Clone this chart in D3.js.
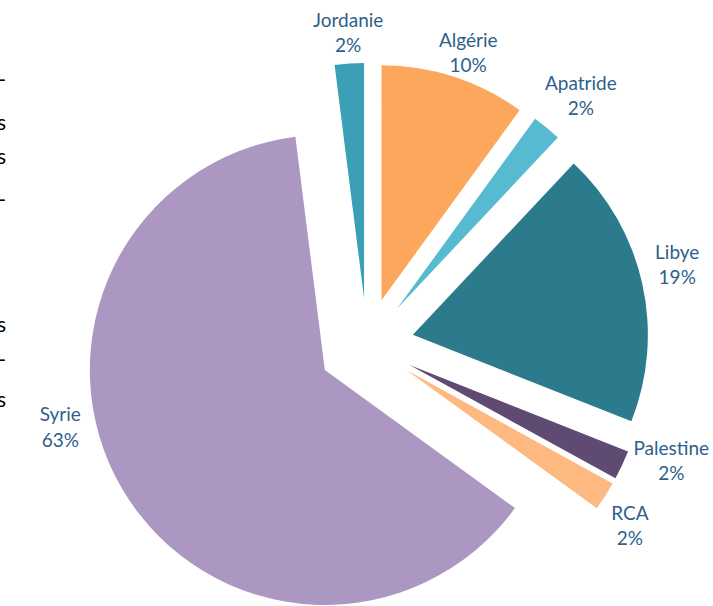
<!DOCTYPE html>
<html>
<head>
    <meta charset="utf-8">
    <title>Répartition par nationalité</title>
    <style type="text/css">
        body{
            margin: 0;
            background-color: #fff;
        }
        svg{
            display: block;
            background-color: #fff;
        }
        .label text{
            font-family: Lato, "Open Sans", sans-serif;
            font-size: 19px;
            fill: #2e5f8c;
        }
        .edge text{
            font-family: Lato, "Open Sans", sans-serif;
            font-size: 21px;
            fill: #000;
        }
    </style>
    <script type="text/javascript" src="https://cdn.jsdelivr.net/npm/d3@7/dist/d3.min.js"></script>
</head>
<body>

    <div id="chart"></div>

    <script type="text/javascript">
        // data, clockwise from 12 o'clock
        var pays = ['Algérie', 'Apatride', 'Libye', 'Palestine', 'RCA', 'Syrie', 'Jordanie'];
        var parts = [10, 2, 19, 2, 2, 63, 2];
        var couleurs = ['#fda75d', '#56bbd1', '#2b7b8c', '#5f4a71', '#fdb97f', '#ac97c3', '#3b9fb6'];

        // cut-off text on the left border
        var bordTexte = ['-', 's', 's', '-', 's', '-', 's'];
        var bordY = [80, 123, 157, 200, 325, 360, 400];

        var width = 713, height = 606;
        var cx = 367, cy = 345, radius = 235, explode = 47;
        // label placement: radius and angular nudge (deg) from slice middle
        var labelR = [311, 329, 320, 324, 317, 318, 315];
        var labelShift = [0.8, 0.7, -2.3, -4.6, 1.9, 16, 0];

        var svg = d3.select('#chart')
            .append('svg')
            .attr('width', width)
            .attr('height', height);

        var data = pays.map(function(p, i){
            return {pays: p, part: parts[i], couleur: couleurs[i], i: i};
        });

        var pie = d3.pie()
            .sort(null)
            .value(function(d){ return d.part; });

        var arc = d3.arc()
            .innerRadius(0)
            .outerRadius(radius);

        var arcs = pie(data);

        var g = svg.append('g')
            .attr('transform', 'translate(' + cx + ',' + cy + ')');

        g.selectAll('.slice')
            .data(arcs)
            .enter()
            .append('path')
            .attr('class', 'slice')
            .attr('d', arc)
            .attr('fill', function(d){ return d.data.couleur; })
            .attr('transform', function(d){
                var a = (d.startAngle + d.endAngle) / 2;
                var e = d.data.pays == 'Syrie' ? explode + 2 : explode;
                return 'translate(' + (e * Math.sin(a)) + ',' + (-e * Math.cos(a)) + ')';
            });

        var labels = g.selectAll('.label')
            .data(arcs)
            .enter()
            .append('g')
            .attr('class', 'label')
            .attr('transform', function(d){
                var i = d.data.i;
                var a = (d.startAngle + d.endAngle) / 2 + labelShift[i] * Math.PI / 180;
                return 'translate(' + (labelR[i] * Math.sin(a) + 1) + ',' + (-labelR[i] * Math.cos(a) + 2) + ')';
            });

        labels.append('text')
            .attr('text-anchor', 'middle')
            .attr('dy', '-0.32em')
            .text(function(d){ return d.data.pays; });

        labels.append('text')
            .attr('text-anchor', 'middle')
            .attr('dy', '1.02em')
            .text(function(d){ return d.data.part + '%'; });

        svg.append('g')
            .attr('class', 'edge')
            .selectAll('text')
            .data(bordTexte)
            .enter()
            .append('text')
            .attr('x', 6)
            .attr('y', function(d, i){ return bordY[i]; })
            .attr('dy', '0.35em')
            .attr('text-anchor', 'end')
            .text(function(d){ return d; });
    </script>

</body>
</html>
